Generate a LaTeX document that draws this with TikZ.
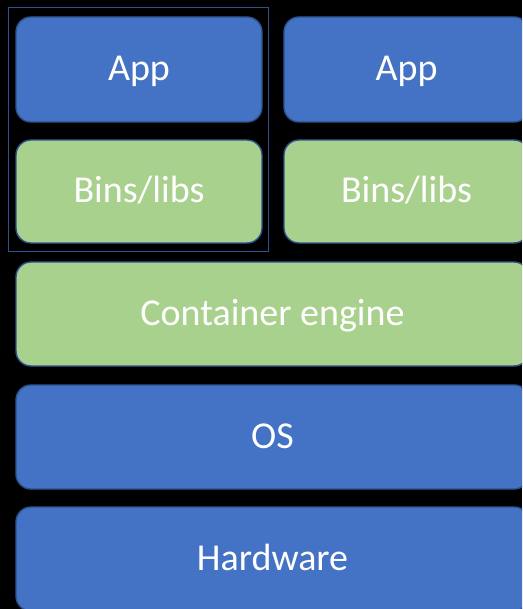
\documentclass[tikz,border=0pt]{standalone}
\usepackage{fontspec}
\setmainfont{Carlito}
\definecolor{boxblue}{HTML}{4472C4}
\definecolor{boxgreen}{HTML}{A9D18E}
\definecolor{edgeblue}{HTML}{2F528F}
\tikzset{
  layer/.style={draw=edgeblue, line width=1.4pt, rounded corners=15pt, anchor=north west,
    inner sep=0pt, outer sep=0pt, text=white, font=\fontsize{38}{40}\selectfont,
    text height=23pt, text depth=-1.5pt},
  bluebox/.style={layer, fill=boxblue},
  greenbox/.style={layer, fill=boxgreen},
}
\begin{document}
\begin{tikzpicture}[x=1pt,y=-1pt]
\fill[black] (0,0) rectangle (522,609);
\useasboundingbox (0,0) rectangle (522,609);
\clip (0,0) rectangle (522,609);
\node[bluebox, minimum width=246pt, minimum height=105pt] (app1) at (16,17) {App};
\node[greenbox, minimum width=246pt, minimum height=103pt] (bins1) at (16,140) {Bins/libs};
\node[bluebox, minimum width=245pt, minimum height=105pt] (app2) at (284,17) {App};
\node[greenbox, minimum width=245pt, minimum height=103pt] (bins2) at (284,140) {Bins/libs};
\node[greenbox, minimum width=513pt, minimum height=104pt] (engine) at (16,262) {Container engine};
\node[bluebox, minimum width=513pt, minimum height=104pt] (os) at (16,385) {OS};
\node[bluebox, minimum width=513pt, minimum height=104pt] (hw) at (16,507) {Hardware};
\draw[edgeblue, line width=1.3pt] (8.5,7.5) rectangle (268.5,251.5);
\end{tikzpicture}
\end{document}
